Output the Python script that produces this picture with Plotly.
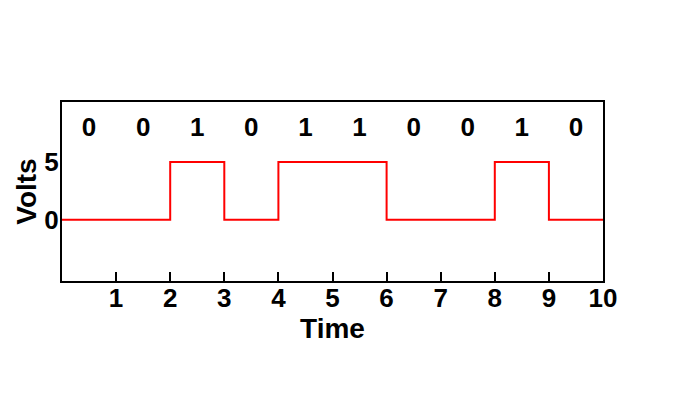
import plotly.graph_objects as go

# Data
time_points = [0, 1, 2, 3, 4, 5, 6, 7, 8, 9, 10]
bits = [0, 0, 1, 0, 1, 1, 0, 0, 1, 0]
volts = [0, 0, 5, 0, 5, 5, 0, 0, 5, 0, 0]
bit_positions = [0.5, 1.5, 2.5, 3.5, 4.5, 5.5, 6.5, 7.5, 8.5, 9.5]
bit_label_level = 7.8
x_ticks = [1, 2, 3, 4, 5, 6, 7, 8, 9, 10]
y_ticks = [0, 5]

FONT = "Liberation Sans, Arial, sans-serif"

fig = go.Figure()
fig.add_trace(go.Scatter(
    x=time_points, y=volts, mode="lines", line_shape="hv",
    line=dict(color="#ff0000", width=2), hoverinfo="skip", showlegend=False,
))
fig.add_trace(go.Scatter(
    x=bit_positions, y=[bit_label_level] * len(bits), mode="text",
    text=[str(b) for b in bits],
    textfont=dict(family=FONT, size=26, color="black", weight="bold"),
    hoverinfo="skip", showlegend=False,
))

fig.update_layout(
    width=680, height=400,
    margin=dict(l=54, r=85, t=94, b=127),
    paper_bgcolor="white", plot_bgcolor="white",
    font=dict(family=FONT, color="black"),
)
fig.update_xaxes(
    range=[0, 10], tickvals=x_ticks, ticktext=[str(v) for v in x_ticks],
    ticks="inside", ticklen=9, tickwidth=1.5, tickcolor="black",
    tickfont=dict(family=FONT, size=26, color="black", weight="bold"),
    ticklabelstandoff=-7,
    showgrid=False, zeroline=False,
    showline=True, linecolor="black", linewidth=2, mirror=True,
    title=dict(text="Time", font=dict(family=FONT, size=28, color="black", weight="bold"), standoff=0),
)
fig.update_yaxes(
    range=[-5.3, 10.2], tickvals=y_ticks, ticktext=[str(v) for v in y_ticks],
    ticks="", tickfont=dict(family=FONT, size=26, color="black", weight="bold"),
    ticklabelstandoff=-4,
    showgrid=False, zeroline=False,
    showline=True, linecolor="black", linewidth=2, mirror=True,
    title=dict(text="Volts", font=dict(family=FONT, size=28, color="black", weight="bold"), standoff=0),
)

fig.write_html("out.html")
